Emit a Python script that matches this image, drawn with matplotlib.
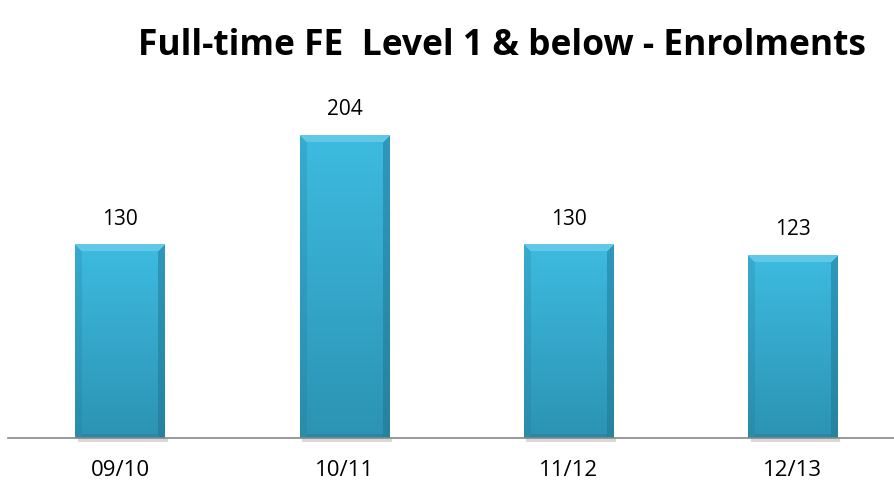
import numpy as np
import matplotlib.pyplot as plt
from matplotlib.colors import to_rgb

# chart data
years = ["09/10", "10/11", "11/12", "12/13"]
enrolments = [130, 204, 130, 123]

title = "Full-time FE  Level 1 & below - Enrolments"

fig = plt.figure(figsize=(8.94, 4.86), dpi=100)
# axes placed so that the baseline sits where the reference has it
ax = fig.add_axes([8 / 894, 48 / 486, 897 / 894, 353 / 486])
ax.set_xlim(-0.5, 3.5)
ax.set_ylim(0, 353 / 1.485)

bar_w = 0.4
px_x = 897 / 4.0   # pixels per x unit
px_y = 1.485       # pixels per y unit

top_col = np.array(to_rgb("#3dbbe0"))
bot_col = np.array(to_rgb("#2c93b3"))
light = np.array(to_rgb("#7fd6ee"))
dark = np.array(to_rgb("#1c6f8a"))

x = np.arange(len(years))
bars = ax.bar(x, enrolments, width=bar_w, color="#35a9cc", zorder=2)

for b, v in zip(bars, enrolments):
    w_px = int(round(bar_w * px_x))
    h_px = int(round(v * px_y))
    yy, xx = np.mgrid[0:h_px, 0:w_px]
    t = (yy / max(h_px - 1, 1))[..., None]  # 0 at top
    img = top_col * (1 - t) + bot_col * t
    bev = 7.0
    # top bevel lighter
    m_top = (yy < bev) & (xx >= yy) & (xx <= w_px - 1 - yy)
    img[m_top] = img[m_top] * 0.45 + light * 0.55
    # right bevel darker
    dr = w_px - 1 - xx
    m_right = (dr < bev) & ~m_top
    img[m_right] = img[m_right] * 0.55 + dark * 0.45
    # left bevel slightly darker
    m_left = (xx < bev) & ~m_top & ~m_right
    img[m_left] = img[m_left] * 0.8 + dark * 0.2
    # bottom bevel
    db = h_px - 1 - yy
    m_bot = (db < 4) & ~m_right & ~m_left
    img[m_bot] = img[m_bot] * 0.7 + dark * 0.3
    x0 = b.get_x()
    ax.imshow(img, extent=(x0, x0 + bar_w, 0, v), aspect="auto",
              interpolation="bilinear", zorder=3)
    # soft shadow under the bar
    ax.bar(b.get_x() + bar_w / 2 + 0.012, 3, width=bar_w, bottom=-3,
           color="#000000", alpha=0.15, zorder=1, clip_on=False)
    ax.text(b.get_x() + bar_w / 2, v + 10, str(v), ha="center", va="bottom",
            fontsize=15, family="Open Sans", color="#000000")

ax.set_xlim(-0.5, 3.5)
ax.set_ylim(0, 353 / 1.485)

for s in ["top", "right", "left"]:
    ax.spines[s].set_visible(False)
ax.spines["bottom"].set_color("#888888")
ax.spines["bottom"].set_linewidth(1.2)
ax.spines["bottom"].set_zorder(4)
ax.set_yticks([])
ax.set_xticks(x)
ax.set_xticklabels(years, fontsize=16, family="Open Sans")
ax.tick_params(axis="x", length=0, pad=16)

fig.text(0.561, 0.905, title, ha="center", va="center", fontsize=25.5,
         fontweight="bold", family="Open Sans")

fig.savefig("out.png", dpi=100)
